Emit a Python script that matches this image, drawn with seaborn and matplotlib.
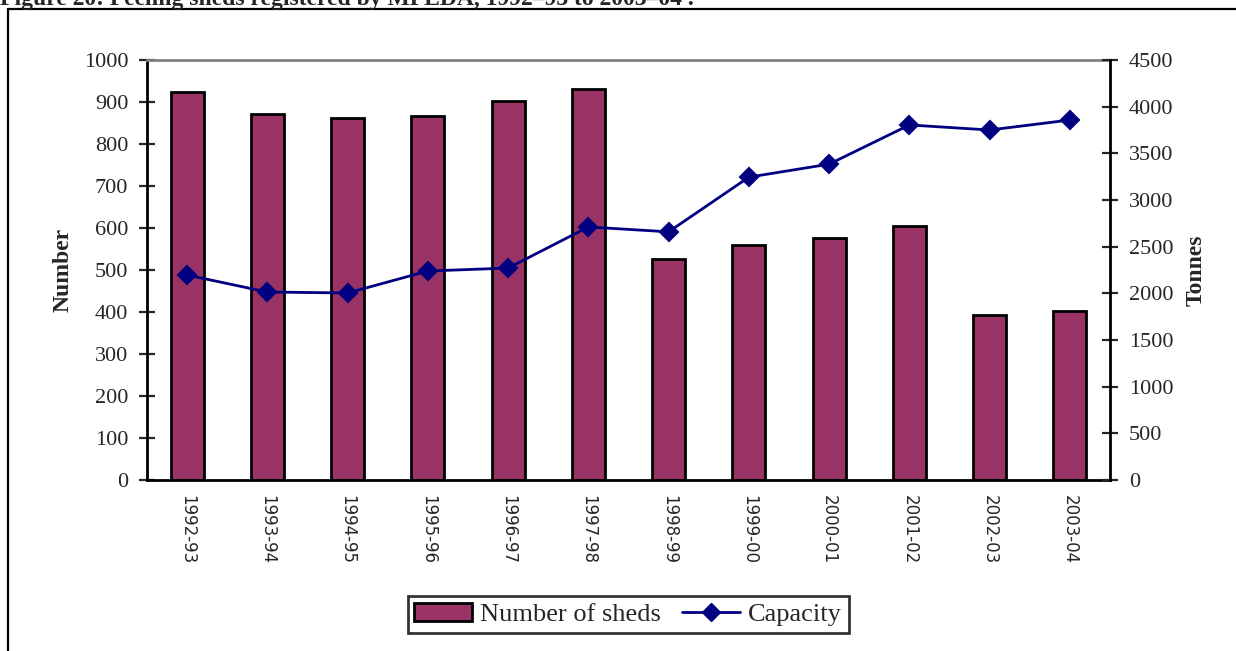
import numpy as np
import pandas as pd
import matplotlib
matplotlib.use("Agg")
import matplotlib.pyplot as plt
from matplotlib.lines import Line2D
from matplotlib.patches import Patch
import seaborn as sns

# data
years = ["1992-93", "1993-94", "1994-95", "1995-96", "1996-97", "1997-98",
         "1998-99", "1999-00", "2000-01", "2001-02", "2002-03", "2003-04"]
sheds = [924, 871, 862, 867, 902, 931, 526, 560, 576, 605, 393, 402]
capacity = [2196, 2014, 2004, 2239, 2271, 2711, 2659, 3245, 3384, 3804, 3750, 3857]

df = pd.DataFrame({"year": years, "sheds": sheds, "capacity": capacity})

sns.set_style("white")
plt.rcParams["font.family"] = ["Liberation Serif", "DejaVu Serif"]

bar_col = "#993366"
line_col = "#000080"

fig = plt.figure(figsize=(12.36, 6.51), dpi=100)
ax = fig.add_axes([147/1236, 1-480/651, (1110-147)/1236, 420/651])

sns.barplot(data=df, x="year", y="sheds", color=bar_col, width=0.41,
            edgecolor="black", linewidth=2, saturation=1, ax=ax)

ax2 = ax.twinx()
sns.pointplot(data=df, x="year", y="capacity", color=line_col, markers="D",
              markersize=9.5, linewidth=2, errorbar=None, ax=ax2)

ax.set_xlim(-0.5, 11.5)
ax.set_ylim(0, 1000)
ax.set_yticks(np.arange(0, 1001, 100))
ax2.set_ylim(0, 4500)
ax2.set_yticks(np.arange(0, 4501, 500))

# ticks between categories
ax.set_xticks(np.arange(len(years)))
ax.set_xticklabels(years, rotation=-90, fontsize=12, family="DejaVu Sans")
ax.set_xticks(np.arange(-0.5, len(years), 1), minor=True)
ax.tick_params(axis="x", which="major", length=0, pad=11)
ax.tick_params(axis="x", which="minor", direction="inout", length=11, width=1.6, color="black")
ax.tick_params(axis="y", direction="inout", length=11, width=1.6, labelsize=16, pad=8, left=True)
ax2.tick_params(axis="y", direction="inout", length=11, width=1.6, labelsize=16, pad=8, right=True)

for a in (ax, ax2):
    a.set_xlabel("")
    for s in a.spines.values():
        s.set_visible(False)
ax.spines["left"].set_visible(True)
ax.spines["left"].set_color("black")
ax.spines["left"].set_linewidth(2)
ax.spines["bottom"].set_visible(True)
ax.spines["bottom"].set_color("black")
ax.spines["bottom"].set_linewidth(2)
ax.spines["top"].set_visible(True)
ax.spines["top"].set_color("#808080")
ax.spines["top"].set_linewidth(2)
ax2.spines["right"].set_visible(True)
ax2.spines["right"].set_color("black")
ax2.spines["right"].set_linewidth(2)

ax.set_ylabel("Number", fontsize=17, fontweight="bold")
ax.yaxis.set_label_coords(-0.076, 0.5)
ax2.set_ylabel("Tonnes", fontsize=17, fontweight="bold")
ax2.yaxis.set_label_coords(1.079, 0.5)

handles = [Patch(facecolor=bar_col, edgecolor="black", linewidth=2),
           Line2D([], [], color=line_col, lw=2, marker="D", markersize=9.5)]
leg = fig.legend(handles, ["Number of sheds", "Capacity"], loc="center",
                 bbox_to_anchor=(628/1236, 1-614.5/651), ncol=2, fontsize=19,
                 frameon=True, fancybox=False, edgecolor="black",
                 handlelength=2.2, handletextpad=0.3, columnspacing=0.8,
                 borderpad=0.25)
leg.get_frame().set_linewidth(2)

# outer frame and the caption, clipped at the top like the source page
fig.add_artist(Line2D([8/1236, 1], [1-9/651, 1-9/651], color="black", lw=1.6))
fig.add_artist(Line2D([8/1236, 8/1236], [0, 1-9/651], color="black", lw=1.6))
fig.text(0.0, 1-5/651, "Figure 20: Peeling sheds registered by MPEDA, 1992\u201393 to 2003\u201304 .",
         fontsize=17, fontweight="bold", va="baseline", ha="left")

fig.savefig("out.png", dpi=100)
